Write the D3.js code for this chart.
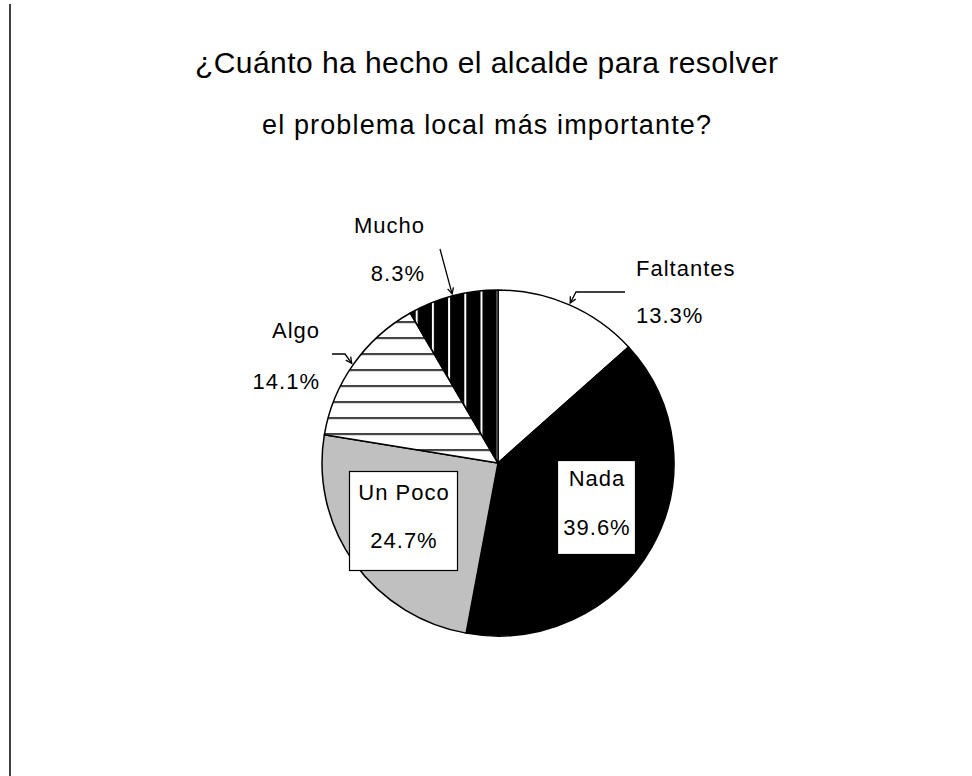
<!DOCTYPE html>
<html>
<head>
<meta charset="utf-8">
<script src="https://cdn.jsdelivr.net/npm/d3@7"></script>
<style>
  body { margin: 0; background: #fff; }
  svg { display: block; }
  text { font-family: "Liberation Sans", Arial, sans-serif; fill: #000; }
</style>
</head>
<body>
<svg id="chart" width="972" height="776"></svg>
<script>
// Survey answers, in the order they run clockwise from 12 o'clock
const categories = ["Faltantes", "Nada", "Un Poco", "Algo", "Mucho"];
const percentages = [13.3, 39.6, 24.7, 14.1, 8.3];
const titleLines = [
  "¿Cuánto ha hecho el alcalde para resolver",
  "el problema local más importante?"
];

const svg = d3.select("#chart");
const W = 972, H = 776;

// Frame rule on the left edge of the page
svg.append("line")
  .attr("x1", 10).attr("x2", 10).attr("y1", 4).attr("y2", H)
  .attr("stroke", "#000").attr("stroke-width", 1.5);

// Title
const titleSpec = [
  { y: 73, size: 30, width: 583 },
  { y: 134, size: 27, width: 449 }
];
svg.selectAll("text.title")
  .data(titleLines)
  .join("text")
  .attr("class", "title")
  .attr("x", W / 2 + 0.5)
  .attr("y", (d, i) => titleSpec[i].y)
  .attr("text-anchor", "middle")
  .attr("font-size", (d, i) => titleSpec[i].size)
  .attr("textLength", (d, i) => titleSpec[i].width)
  .attr("lengthAdjust", "spacing")
  .text(d => d);

// Pie geometry (slightly flattened vertically)
const cx = 498, cy = 463, rx = 176, ry = 173;
const sy = ry / rx;

const defs = svg.append("defs");

// Horizontal hatching for "Algo"
const hStep = 16 / sy;
const hatchH = defs.append("pattern")
  .attr("id", "hatch-h")
  .attr("patternUnits", "userSpaceOnUse")
  .attr("x", 0).attr("y", (322 - cy) / sy - 0.75 / sy)
  .attr("width", 20).attr("height", hStep);
hatchH.append("rect").attr("width", 20).attr("height", hStep).attr("fill", "#fff");
hatchH.append("rect").attr("y", 0).attr("width", 20).attr("height", 1.6 / sy).attr("fill", "#000");

// Black with white vertical stripes for "Mucho"
const vStep = 16.2;
const hatchV = defs.append("pattern")
  .attr("id", "hatch-v")
  .attr("patternUnits", "userSpaceOnUse")
  .attr("x", 480.5 - cx).attr("y", 0)
  .attr("width", vStep).attr("height", 20);
hatchV.append("rect").attr("width", vStep).attr("height", 20).attr("fill", "#000");
hatchV.append("rect").attr("x", 0).attr("width", 2).attr("height", 20).attr("fill", "#fff");

// Arrowhead for leader lines
defs.append("marker")
  .attr("id", "arrow")
  .attr("viewBox", "-8 -5 10 10")
  .attr("refX", 0).attr("refY", 0)
  .attr("markerWidth", 10).attr("markerHeight", 10)
  .attr("markerUnits", "userSpaceOnUse")
  .attr("orient", "auto")
  .append("path")
  .attr("d", "M-6,-3 L0,0 L-6,3")
  .attr("fill", "none").attr("stroke", "#000").attr("stroke-width", 1.3);

const fills = {
  "Faltantes": "#ffffff",
  "Nada": "#000000",
  "Un Poco": "#c0c0c0",
  "Algo": "url(#hatch-h)",
  "Mucho": "url(#hatch-v)"
};

const data = categories.map((c, i) => ({ category: c, value: percentages[i] }));
const pie = d3.pie().sort(null).value(d => d.value).startAngle(0).endAngle(2 * Math.PI);
const arcs = pie(data);
const arc = d3.arc().innerRadius(0).outerRadius(rx);

const g = svg.append("g")
  .attr("transform", `translate(${cx},${cy}) scale(1,${sy})`);

g.selectAll("path.slice")
  .data(arcs)
  .join("path")
  .attr("class", "slice")
  .attr("d", arc)
  .attr("fill", d => fills[d.data.category])
  .attr("stroke", "#000")
  .attr("stroke-width", 1.5)
  .attr("stroke-linejoin", "round")
  .attr("vector-effect", "non-scaling-stroke");

// Point on the rim at a slice's middle angle, in page coordinates
function rimPoint(d, extra) {
  const a = (d.startAngle + d.endAngle) / 2;
  return [cx + Math.sin(a) * (rx + extra), cy - Math.cos(a) * (ry + extra)];
}

const fmt = v => v.toFixed(1) + "%";

// Label placement for each answer
const outerLayout = {
  "Faltantes": { anchor: "start", x: 636, y1: 276, y2: 323, leader: [[625, 292], [576, 292]] },
  "Mucho":     { anchor: "end",   x: 425, y1: 233, y2: 281, leader: [[440, 249]] },
  "Algo":      { anchor: "end",   x: 320, y1: 338, y2: 389, leader: [[332, 354], [345, 354]] }
};
const innerLayout = {
  "Nada":    { x: 557, y: 460, w: 78,  h: 94, y1: 486, y2: 535 },
  "Un Poco": { x: 349, y: 471, w: 108, h: 99, y1: 500, y2: 548 }
};

const labelFont = 22, labelSpacing = 1;

arcs.forEach(d => {
  const name = d.data.category;
  const pct = fmt(d.data.value);
  if (outerLayout[name]) {
    const L = outerLayout[name];
    const tip = rimPoint(d, 2);
    svg.append("path")
      .attr("d", d3.line()([...L.leader, tip]))
      .attr("fill", "none").attr("stroke", "#000").attr("stroke-width", 1.3)
      .attr("marker-end", "url(#arrow)");
    [name, pct].forEach((t, i) => {
      svg.append("text")
        .attr("x", L.x).attr("y", i === 0 ? L.y1 : L.y2)
        .attr("text-anchor", L.anchor)
        .attr("font-size", labelFont)
        .attr("letter-spacing", labelSpacing)
        .text(t);
    });
  } else if (innerLayout[name]) {
    const L = innerLayout[name];
    svg.append("rect")
      .attr("x", L.x + 0.5).attr("y", L.y + 0.5)
      .attr("width", L.w).attr("height", L.h)
      .attr("fill", "#fff").attr("stroke", "#000").attr("stroke-width", 1.2);
    [name, pct].forEach((t, i) => {
      svg.append("text")
        .attr("x", L.x + L.w / 2 + 1).attr("y", i === 0 ? L.y1 : L.y2)
        .attr("text-anchor", "middle")
        .attr("font-size", labelFont)
        .attr("letter-spacing", labelSpacing)
        .text(t);
    });
  }
});
</script>
</body>
</html>
